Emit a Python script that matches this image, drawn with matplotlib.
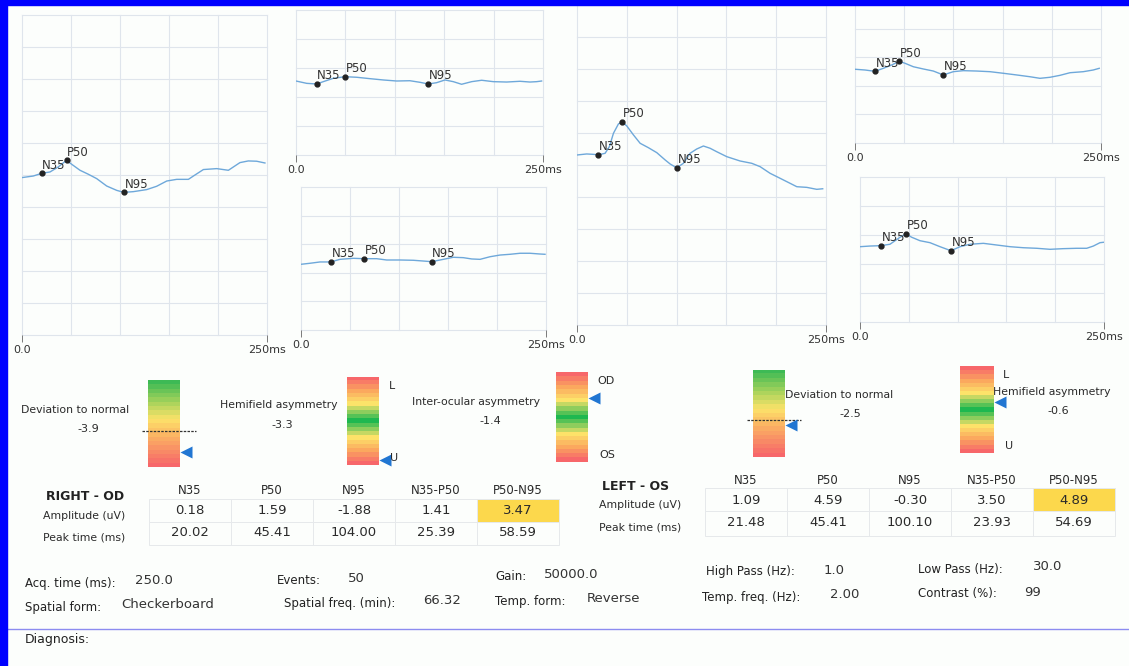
import numpy as np
import matplotlib.pyplot as plt
from matplotlib.colors import LinearSegmentedColormap
from matplotlib.patches import Rectangle

# PERG report: 6 waveforms, 5 gauges, 2 result tables, stimulus params

W, H = 1129, 666
plt.rcParams['font.family'] = 'DejaVu Sans'

## waveform data: time (ms), amplitude (uV), peak indices (N35, P50, N95)
od_full_t = [0, 11.5, 20.02, 28.6, 37.0, 45.41, 50.7, 59.2, 67.7, 76.2, 86.4, 96.6, 104.0, 113.6,
             127.2, 137.4, 147.7, 157.9, 169.8, 174.9, 185.1, 198.7, 210.6, 215.7, 222.4, 230.9, 239.4, 247.9]
od_full_v = [-0.28, -0.11, 0.18, 0.33, 0.87, 1.59, 1.16, 0.51, 0.08, -0.39, -1.19, -1.66, -1.88, -1.80,
             -1.58, -1.22, -0.65, -0.47, -0.47, -0.11, 0.59, 0.69, 0.51, 0.87, 1.34, 1.52, 1.49, 1.30]
od_full_pk = [2, 5, 12]

od_up_t = [0, 10.8, 20.9, 27.6, 37.8, 49.6, 61.4, 74.9, 88.4, 101.9, 115.3, 125.5, 133.9, 142.3, 150.8,
           159.2, 167.6, 177.8, 187.9, 199.7, 213.2, 226.7, 236.8, 243.6, 248.6]
od_up_v = [0.16, -0.09, -0.16, 0.09, 0.45, 0.62, 0.56, 0.41, 0.27, 0.16, 0.19, 0.02, -0.16, -0.02, 0.27,
           0.09, -0.19, 0.09, 0.24, 0.09, 0.05, 0.13, 0.05, 0.09, 0.16]
od_up_pk = [2, 5, 12]

od_lo_t = [0, 9.2, 19.4, 30.3, 39.8, 53.4, 64.3, 77.2, 87.4, 101.0, 114.6, 124.8, 133.3, 145.2, 155.4,
           165.6, 174.2, 182.7, 192.9, 203.1, 213.3, 223.5, 233.7, 243.9, 249.0]
od_lo_v = [-0.62, -0.51, -0.37, -0.37, -0.09, 0.02, -0.02, -0.02, -0.16, -0.16, -0.19, -0.27, -0.34, -0.09,
           0.13, 0.09, -0.05, -0.09, 0.19, 0.37, 0.45, 0.56, 0.56, 0.48, 0.45]
od_lo_pk = [3, 6, 12]

os_full_t = [0, 9.7, 16.3, 21.48, 28.2, 32.5, 36.6, 41.6, 45.41, 50.0, 56.7, 63.4, 71.7, 80.1, 88.5, 93.5,
             100.1, 106.8, 113.5, 120.2, 126.9, 133.6, 140.3, 150.4, 163.7, 175.5, 183.9, 193.9, 203.9,
             214.0, 220.7, 230.7, 240.7, 246.7]
os_full_v = [1.07, 1.18, 1.14, 1.09, 1.25, 1.96, 3.39, 4.39, 4.59, 4.17, 3.21, 2.32, 1.85, 1.32, 0.54, 0.11,
             -0.30, 0.18, 1.25, 1.71, 2.03, 1.79, 1.42, 0.89, 0.43, 0.18, -0.18, -0.89, -1.42,
             -1.96, -2.32, -2.39, -2.60, -2.54]
os_full_pk = [3, 8, 16]

os_up_t = [0, 10.2, 20.3, 28.8, 37.3, 45.0, 50.8, 59.3, 69.4, 79.6, 89.7, 99.9, 110.1, 123.6, 137.2,
           150.7, 164.3, 177.8, 188.0, 198.1, 208.3, 218.5, 232.0, 242.1, 248.2]
os_up_v = [0.24, 0.16, 0.02, 0.34, 0.70, 1.09, 0.88, 0.51, 0.27, 0.05, -0.37, -0.02, 0.09, 0.05, -0.02,
           -0.19, -0.37, -0.56, -0.73, -0.62, -0.41, -0.13, -0.02, 0.16, 0.34]
os_up_pk = [2, 5, 10]

os_lo_t = [0, 10.2, 21.2, 30.7, 41.0, 47.1, 53.0, 61.5, 71.7, 82.0, 93.2, 102.5, 112.7, 126.4, 140.1,
           153.7, 167.4, 181.1, 194.7, 208.3, 222.0, 232.3, 239.1, 245.9, 249.3]
os_lo_v = [0.30, 0.37, 0.41, 0.56, 1.31, 1.66, 1.31, 0.94, 0.73, 0.30, -0.13, 0.30, 0.56, 0.66, 0.48,
           0.30, 0.19, 0.13, 0.02, 0.09, 0.13, 0.13, 0.37, 0.73, 0.77]
os_lo_pk = [2, 5, 10]

peak_names = ['N35', 'P50', 'N95']

## gauges
gauge_titles = ['Deviation to normal', 'Hemifield asymmetry', 'Inter-ocular asymmetry',
                'Deviation to normal', 'Hemifield asymmetry']
gauge_values = [-3.9, -3.3, -1.4, -2.5, -0.6]
gauge_marker = [0.83, 0.94, 0.29, 0.63, 0.41]      # 0 = top of bar, 1 = bottom
gauge_cutoff = [0.59, None, None, 0.575, None]
gauge_kind = ['dev', 'sym', 'sym', 'dev', 'sym']
gauge_ends = [None, ('L', 'U'), ('OD', 'OS'), None, ('L', 'U')]

## result tables
col_names = ['N35', 'P50', 'N95', 'N35-P50', 'P50-N95']
row_names = ['Amplitude (uV)', 'Peak time (ms)']
od_amp = [0.18, 1.59, -1.88, 1.41, 3.47]
od_time = [20.02, 45.41, 104.00, 25.39, 58.59]
os_amp = [1.09, 4.59, -0.30, 3.50, 4.89]
os_time = [21.48, 45.41, 100.10, 23.93, 54.69]
flag_col = 4

## stimulus parameters
param_labels = ['Acq. time (ms):', 'Events:', 'Gain:', 'High Pass (Hz):', 'Low Pass (Hz):',
                'Spatial form:', 'Spatial freq. (min):', 'Temp. form:', 'Temp. freq. (Hz):', 'Contrast (%):']
param_values = ['250.0', '50', '50000.0', '1.0', '30.0',
                'Checkerboard', '66.32', 'Reverse', '2.00', '99']

GRID = '#dfe5ec'
TRACE = '#6ea8da'
TXT = '#2a2a2a'


def px_box(x0, y0, x1, y1):
    return [x0 / W, 1 - y1 / H, (x1 - x0) / W, (y1 - y0) / H]


fig = plt.figure(figsize=(W / 100, H / 100), dpi=100, facecolor='#fcfefc')
bg = fig.add_axes([0, 0, 1, 1])
bg.set_xlim(0, W)
bg.set_ylim(H, 0)
bg.axis('off')

## waveforms
panels = [
    (od_full_t, od_full_v, od_full_pk, (22, 15, 267, 335), 17.3, 10),
    (od_up_t, od_up_v, od_up_pk, (296, 10, 543, 155), 7.76, 5),
    (od_lo_t, od_lo_v, od_lo_pk, (301, 187, 546, 330), 7.65, 5),
    (os_full_t, os_full_v, os_full_pk, (577, 5, 826, 325), 17.1, 10),
    (os_up_t, os_up_v, os_up_pk, (855, 0, 1101, 143), 7.65, 5),
    (os_lo_t, os_lo_v, os_lo_pk, (860, 177, 1104, 322), 7.76, 5),
]
for t, v, pk, box, lim, rows in panels:
    ax = fig.add_axes(px_box(*box))
    ax.patch.set_alpha(0)
    for x in range(0, 251, 50):
        ax.axvline(x, color=GRID, lw=0.8, zorder=0, clip_on=False)
    for y in np.linspace(-lim, lim, rows + 1):
        ax.axhline(y, color=GRID, lw=0.8, zorder=0, clip_on=False)
    ax.plot(t, v, color=TRACE, lw=1.0)
    for name, i in zip(peak_names, pk):
        ax.plot(t[i], v[i], 'o', ms=3.5, color='#222222')
        ax.annotate(name, (t[i], v[i]), xytext=(0.5, 1.2), textcoords='offset points',
                    fontsize=8.5, color='#333333', ha='left', va='bottom')
    ax.set_xlim(0, 250)
    ax.set_ylim(-lim, lim)
    ax.set_xticks([0, 250], ['0.0', '250ms'])
    ax.set_yticks([])
    ax.tick_params(axis='x', length=5, width=0.6, color='#666666', labelsize=8,
                   pad=2, labelcolor='#333333')
    for s in ax.spines.values():
        s.set_visible(False)

## gauges
dev_cmap = LinearSegmentedColormap.from_list(
    'dev', [(0, '#3dba55'), (0.25, '#a9d45c'), (0.45, '#fde36a'), (0.65, '#fbb363'), (1.0, '#f7676a')]).resampled(20)
sym_cmap = LinearSegmentedColormap.from_list(
    'sym', [(0, '#f7676a'), (0.15, '#fba85e'), (0.3, '#fde36a'), (0.5, '#1fb850'),
            (0.7, '#fde36a'), (0.85, '#fba85e'), (1.0, '#f7676a')]).resampled(21)

gauge_boxes = [(148, 380, 180, 467), (347, 377, 379, 465), (556, 372, 588, 462),
               (753, 370, 785, 457), (960, 366, 993, 453)]
title_pos = [(21, 410), (220, 405), (412, 402), (785, 395), (993, 392)]
value_pos = [(88, 429), (282, 425), (490, 421), (850, 414), (1058, 411)]

for i, gb in enumerate(gauge_boxes):
    ax = fig.add_axes(px_box(*gb))
    cmap = dev_cmap if gauge_kind[i] == 'dev' else sym_cmap
    ax.imshow(np.linspace(0, 1, 200)[:, None], cmap=cmap, aspect='auto',
              extent=(0, 1, 1, 0), interpolation='nearest')
    ax.set_xlim(0, 1)
    ax.set_ylim(1, 0)
    ax.axis('off')
    if gauge_cutoff[i] is not None:
        ax.plot([-0.2, 1.5], [gauge_cutoff[i]] * 2, ls=(0, (2, 1)), color='#333333',
                lw=0.9, clip_on=False)
    ax.plot([1.2], [gauge_marker[i]], marker='<', ms=9, color='#2176d2', mec='none', clip_on=False)
    if gauge_ends[i]:
        ax.text(1.3, 0.1, gauge_ends[i][0], fontsize=8, color=TXT, va='center', ha='left')
        ax.text(1.35, 0.92, gauge_ends[i][1], fontsize=8, color=TXT, va='center', ha='left')
    bg.text(*title_pos[i], gauge_titles[i], fontsize=7.8, color=TXT, ha='left', va='center')
    bg.text(*value_pos[i], '%.1f' % gauge_values[i], fontsize=8, color=TXT, ha='center', va='center')


## tables
def draw_table(title, tx, ty, amp, tim, cx0, y_head, y_amp, y_time, cell_top, cell_mid, cell_bot):
    bg.text(tx + 3, ty, title, fontsize=9, fontweight='bold', color='#222222', va='center')
    bg.text(tx, y_amp + 5, row_names[0], fontsize=7.8, color=TXT, va='center')
    bg.text(tx, y_time + 5, row_names[1], fontsize=7.8, color=TXT, va='center')
    for j, name in enumerate(col_names):
        cx = cx0 + 82 * j
        left = cx - 41
        for top, bot in [(cell_top, cell_mid), (cell_mid, cell_bot)]:
            fc = '#fcd84c' if (j == flag_col and top == cell_top) else 'none'
            bg.add_patch(Rectangle((left, top), 82, bot - top, fc=fc, ec='#e6e9eb', lw=0.7))
        bg.text(cx, y_head, name, fontsize=8.5, color=TXT, ha='center', va='center')
        bg.text(cx, y_amp, '%.2f' % amp[j], fontsize=9.5, color=TXT, ha='center', va='center')
        bg.text(cx, y_time, '%.2f' % tim[j], fontsize=9.5, color=TXT, ha='center', va='center')


draw_table('RIGHT - OD', 43, 496, od_amp, od_time, 190, 491, 511, 533, 499, 522, 545)
draw_table('LEFT - OS', 599, 486, os_amp, os_time, 746, 481, 500, 522, 488, 511, 536)

## stimulus parameters
label_x = [25, 277, 495, 706, 918, 25, 284, 495, 702, 918]
value_x = [135, 348, 544, 824, 1033, 121, 423, 587, 830, 1024]
row_y = [583, 580, 577, 572, 569, 607, 603, 601, 597, 594]
for lab, val, lx, vx, y in zip(param_labels, param_values, label_x, value_x, row_y):
    bg.text(lx, y, lab, fontsize=8.5, color='#222222', va='center')
    bg.text(vx, y - 2, val, fontsize=9.5, color='#333333', va='center')

bg.plot([8, W], [629, 629], color='#8c8cf0', lw=1.0)
bg.text(25, 639, 'Diagnosis:', fontsize=9, color='#222222', va='center')

## scanner border
fig.add_artist(Rectangle((0, 0), 7 / W, 1, transform=fig.transFigure, color='#0000ff', zorder=10))
fig.add_artist(Rectangle((0, 1 - 5 / H), 1, 5 / H, transform=fig.transFigure, color='#0000ff', zorder=10))

fig.savefig('out.png', dpi=100, facecolor=fig.get_facecolor())
